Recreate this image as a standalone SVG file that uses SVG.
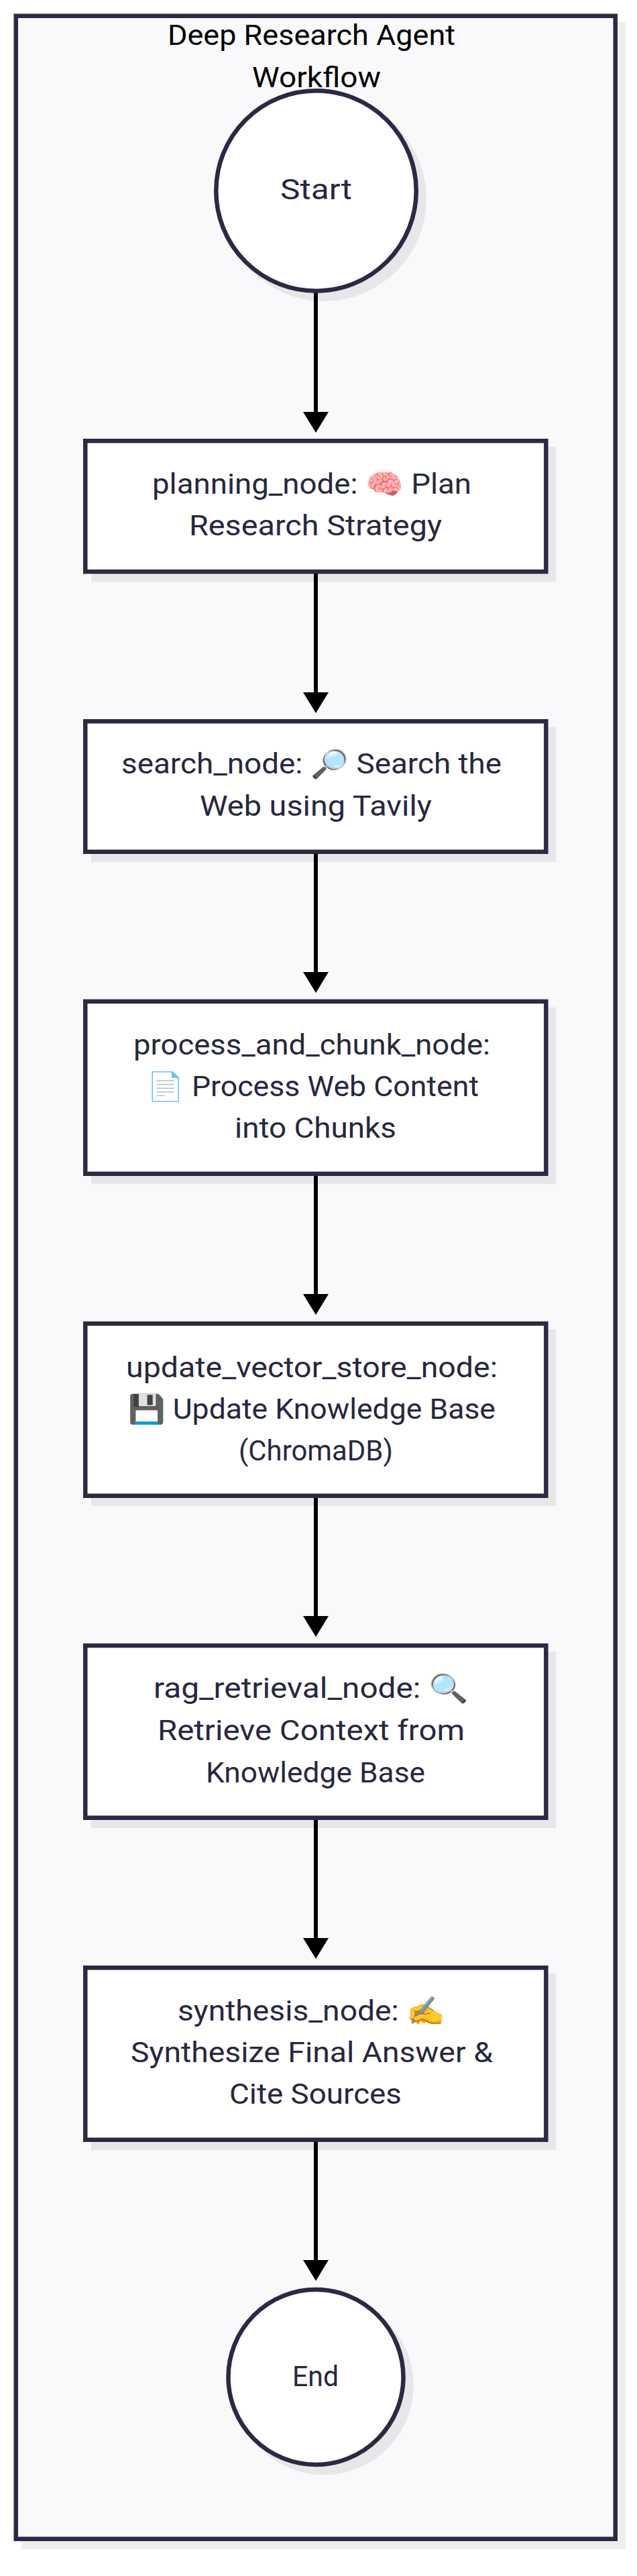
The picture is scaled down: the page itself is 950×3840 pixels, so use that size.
<svg xmlns="http://www.w3.org/2000/svg" width="950" height="3840" viewBox="0 0 950 3840">
<style>
text{font-family:Roboto,"Noto Sans","Liberation Sans",sans-serif;font-size:41.6px;fill:#28283f;text-anchor:middle}
.t{fill:#000}
.n{fill:#fff;stroke:#2a2a44;stroke-width:6.5}
.s{fill:#000;fill-opacity:.07;stroke:none}
.e{stroke:#000;stroke-width:6;fill:none;marker-end:url(#arrow)}
</style>
<defs>
<marker id="arrow" markerUnits="userSpaceOnUse" markerWidth="31" markerHeight="38" viewBox="0 0 31 38" refX="6" refY="19" orient="auto"><path d="M0 0L31 19L0 38Z" fill="#000"/></marker>
</defs>
<rect width="950" height="3840" fill="#fff"/>
<g id="frame">
<rect class="s" x="32.5" y="32.5" width="900.5" height="3767.5"/>
<rect x="23.75" y="23.75" width="894" height="3761" fill="#f9f9fb" stroke="#2a2a44" stroke-width="6.5"/>
<text class="t" x="464.5" y="67" textLength="429" lengthAdjust="spacingAndGlyphs">Deep Research Agent</text>
<text class="t" x="472" y="129.5" textLength="192" lengthAdjust="spacingAndGlyphs">Workflow</text>
</g>
<g id="connectors">
<path class="e" d="M471 437V620"/>
<path class="e" d="M471 855V1038"/>
<path class="e" d="M471 1273V1455"/>
<path class="e" d="M471 1753V1935"/>
<path class="e" d="M471 2233V2415"/>
<path class="e" d="M471 2713V2895"/>
<path class="e" d="M471 3193V3375"/>
</g>
<g id="start">
<circle class="s" cx="483.5" cy="296.5" r="152.5"/>
<circle class="n" cx="471.5" cy="284.5" r="149.25"/>
<text x="471.5" y="297" textLength="107" lengthAdjust="spacingAndGlyphs">Start</text>
</g>
<g id="planning_node">
<rect class="s" x="136" y="666" width="693.6" height="201.4"/>
<rect class="n" x="127.25" y="657.25" width="687.1" height="194.9"/>
<text x="465" y="736" textLength="476" lengthAdjust="spacingAndGlyphs">planning_node: 🧠 Plan</text>
<text x="470.5" y="798" textLength="377" lengthAdjust="spacingAndGlyphs">Research Strategy</text>
</g>
<g id="search_node">
<rect class="s" x="136" y="1084" width="693.6" height="201"/>
<rect class="n" x="127.25" y="1075.25" width="687.1" height="194.5"/>
<text x="464.5" y="1153" textLength="567" lengthAdjust="spacingAndGlyphs">search_node: 🔎 Search the</text>
<text x="471" y="1216" textLength="346" lengthAdjust="spacingAndGlyphs">Web using Tavily</text>
</g>
<g id="process_and_chunk_node">
<rect class="s" x="136" y="1501.6" width="693.6" height="263.4"/>
<rect class="n" x="127.25" y="1492.85" width="687.1" height="256.9"/>
<text x="465" y="1572" textLength="532" lengthAdjust="spacingAndGlyphs">process_and_chunk_node:</text>
<text x="466.5" y="1634" textLength="495" lengthAdjust="spacingAndGlyphs">📄 Process Web Content</text>
<text x="470.5" y="1696" textLength="241" lengthAdjust="spacingAndGlyphs">into Chunks</text>
</g>
<g id="update_vector_store_node">
<rect class="s" x="136" y="1981.8" width="693.6" height="263.2"/>
<rect class="n" x="127.25" y="1973.05" width="687.1" height="256.7"/>
<text x="465" y="2053" textLength="554" lengthAdjust="spacingAndGlyphs">update_vector_store_node:</text>
<text x="465" y="2115" textLength="548" lengthAdjust="spacingAndGlyphs">💾 Update Knowledge Base</text>
<text x="471" y="2177" textLength="230" lengthAdjust="spacingAndGlyphs">(ChromaDB)</text>
</g>
<g id="rag_retrieval_node">
<rect class="s" x="136" y="2461.8" width="693.6" height="263.2"/>
<rect class="n" x="127.25" y="2453.05" width="687.1" height="256.7"/>
<text x="464" y="2531" textLength="470" lengthAdjust="spacingAndGlyphs">rag_retrieval_node: 🔍</text>
<text x="464" y="2594" textLength="458" lengthAdjust="spacingAndGlyphs">Retrieve Context from</text>
<text x="470.5" y="2656.5" textLength="327" lengthAdjust="spacingAndGlyphs">Knowledge Base</text>
</g>
<g id="synthesis_node">
<rect class="s" x="136" y="2942" width="693.6" height="263"/>
<rect class="n" x="127.25" y="2933.25" width="687.1" height="256.5"/>
<text x="464.5" y="3012" textLength="399" lengthAdjust="spacingAndGlyphs">synthesis_node: ✍️</text>
<text x="465" y="3074" textLength="540" lengthAdjust="spacingAndGlyphs">Synthesize Final Answer &amp;</text>
<text x="470.5" y="3136" textLength="257" lengthAdjust="spacingAndGlyphs">Cite Sources</text>
</g>
<g id="end">
<circle class="s" cx="483" cy="3555.5" r="133.75"/>
<circle class="n" cx="471" cy="3543.5" r="130.5"/>
<text x="470.5" y="3556.5" textLength="69" lengthAdjust="spacingAndGlyphs">End</text>
</g>
</svg>
